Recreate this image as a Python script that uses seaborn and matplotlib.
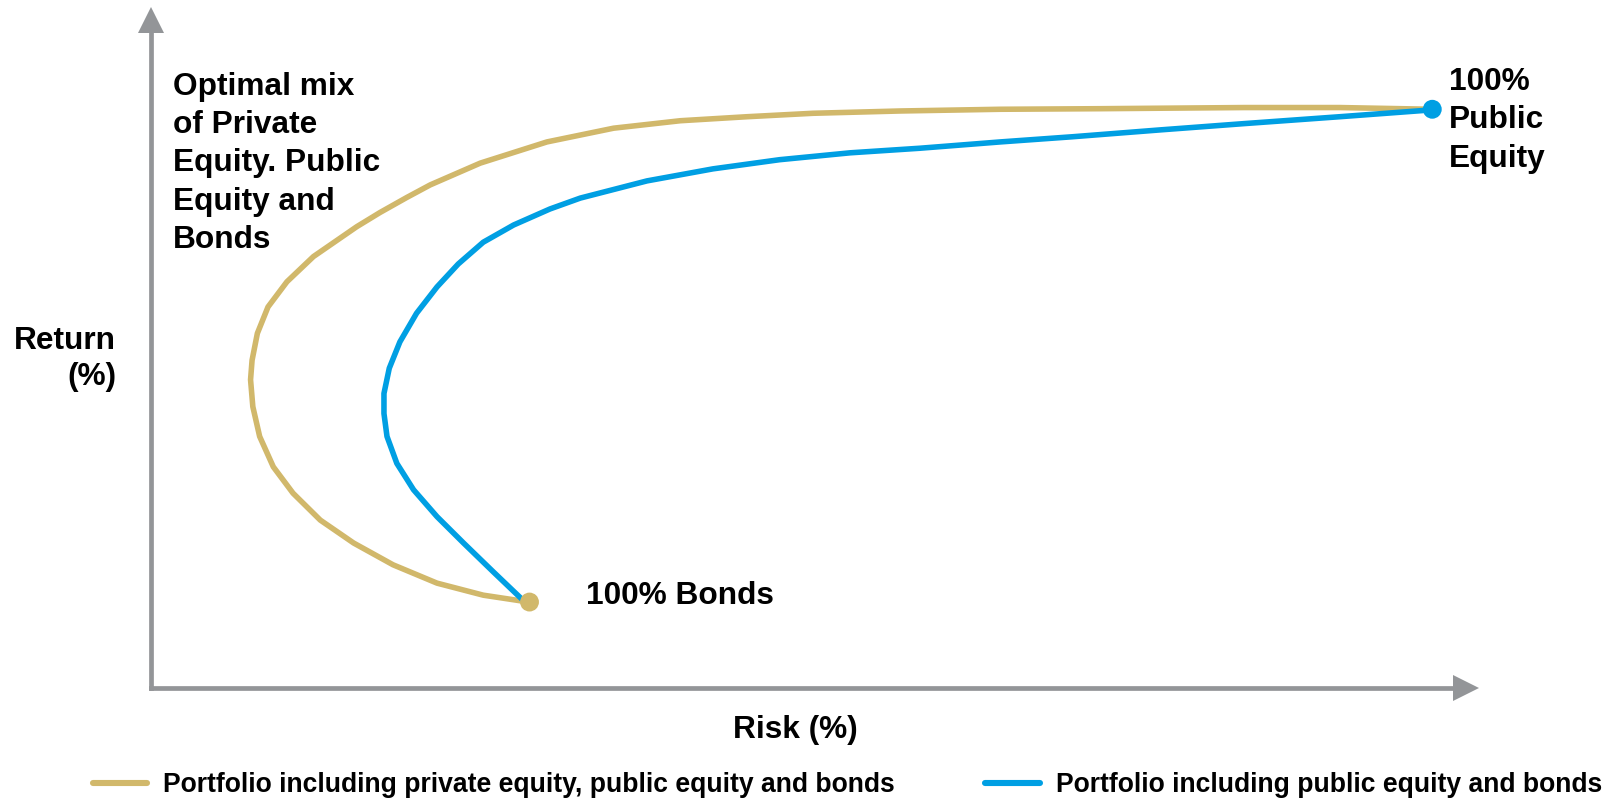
import pandas as pd
import seaborn as sns
import matplotlib.pyplot as plt
from matplotlib.lines import Line2D

# Efficient-frontier style curves: risk (%) on x, return (%) on y,
# each running from 100% bonds to 100% public equity
risk_with_pe = [4.99, 4.39, 3.78, 3.20, 2.68, 2.24, 1.88, 1.62, 1.44, 1.35,
                1.32, 1.34, 1.41, 1.55, 1.80, 2.15, 2.72, 3.03, 3.38, 3.69,
                4.35, 5.23, 6.11, 6.99, 7.87, 8.74, 9.89, 11.21, 12.53, 14.43,
                15.69, 16.91]
return_with_pe = [1.50, 1.62, 1.83, 2.15, 2.53, 2.93, 3.40, 3.86, 4.39, 4.91,
                  5.38, 5.72, 6.19, 6.65, 7.09, 7.53, 8.05, 8.30, 8.56, 8.78,
                  9.16, 9.53, 9.77, 9.90, 9.97, 10.03, 10.07, 10.10, 10.11, 10.13,
                  10.13, 10.10]

risk_public = [4.90, 4.52, 4.13, 3.78, 3.47, 3.25, 3.12, 3.08, 3.08, 3.15,
               3.29, 3.51, 3.78, 4.06, 4.39, 4.79, 5.27, 5.67, 6.55, 7.42,
               8.30, 9.23, 10.15, 11.21, 12.16, 13.32, 14.43, 15.69, 16.91]
return_public = [1.55, 2.03, 2.53, 2.99, 3.46, 3.92, 4.39, 4.79, 5.14, 5.58,
                 6.04, 6.54, 7.00, 7.40, 7.78, 8.08, 8.36, 8.55, 8.85, 9.06,
                 9.22, 9.34, 9.42, 9.53, 9.62, 9.74, 9.85, 9.97, 10.09]

bonds_point = (5.00, 1.50)
equity_point = (16.91, 10.10)

series_labels = ["Portfolio including private equity, public equity and bonds",
                 "Portfolio including public equity and bonds"]
series_colors = ["#D1B86B", "#009FE3"]
axis_color = "#939598"

frames = []
for label, xs, ys in [(series_labels[0], risk_with_pe, return_with_pe),
                      (series_labels[1], risk_public, return_public)]:
    frames.append(pd.DataFrame({"risk": xs, "ret": ys, "portfolio": label}))
df = pd.concat(frames, ignore_index=True)

sns.set_theme(style="white")
plt.rcParams["font.family"] = ["Liberation Sans", "DejaVu Sans"]
plt.rcParams["font.weight"] = "bold"

W, H = 1619, 798
fig = plt.figure(figsize=(W / 100, H / 100), dpi=100)


def fx(px):
    return px / W


def fy(py):
    return 1 - py / H


left, right, bottom, top = 150.5, 1465.5, 688, 20
ax = fig.add_axes([fx(left), fy(bottom), fx(right) - fx(left), fy(top) - fy(bottom)])
px_per_risk, px_per_ret = 75.8, 57.3
ax.set_xlim(0, (right - left) / px_per_risk)
ax.set_ylim(0, (bottom - top) / px_per_ret)

sns.lineplot(data=df, x="risk", y="ret", hue="portfolio", estimator=None, sort=False,
             palette=dict(zip(series_labels, series_colors)), linewidth=4.0,
             legend=False, ax=ax, solid_capstyle="round", solid_joinstyle="round")

sns.scatterplot(x=[equity_point[0]], y=[equity_point[1]], color=series_colors[1],
                s=185, edgecolor="none", ax=ax, zorder=5, clip_on=False)
sns.scatterplot(x=[bonds_point[0]], y=[bonds_point[1]], color=series_colors[0],
                s=185, edgecolor="none", ax=ax, zorder=5, clip_on=False)

# Axes drawn as arrows
for side in ["top", "right"]:
    ax.spines[side].set_visible(False)
for side in ["left", "bottom"]:
    ax.spines[side].set_color(axis_color)
    ax.spines[side].set_linewidth(3.4)
ax.set_xticks([])
ax.set_yticks([])
ax.set_xlabel("")
ax.set_ylabel("")
ax.plot([0], [1], marker="^", markersize=19, color=axis_color, transform=ax.transAxes,
        clip_on=False, markeredgewidth=0)
ax.plot([1], [0], marker=">", markersize=19, color=axis_color, transform=ax.transAxes,
        clip_on=False, markeredgewidth=0)

fs = 22.75


def block(x, y0, lines, pitch, ha="left"):
    for i, line in enumerate(lines):
        fig.text(fx(x), fy(y0 + i * pitch), line, fontsize=fs, fontweight="bold",
                 ha=ha, va="baseline", color="black")


block(173, 95, ["Optimal mix", "of Private", "Equity. Public", "Equity and", "Bonds"], 38.2)
block(1449, 90, ["100%", "Public", "Equity"], 38.5)
block(586, 604, ["100% Bonds"], 0)
block(116, 349, ["Return", "(%)"], 36, ha="right")
block(795, 738, ["Risk (%)"], 0, ha="center")

handles = [Line2D([], [], color=c, linewidth=4.4) for c in series_colors]
fig.legend(handles, series_labels, loc="center left", bbox_to_anchor=(fx(93), fy(785)),
           ncol=2, frameon=False, handlelength=2.05, handletextpad=0.6,
           columnspacing=3.4, borderpad=0, borderaxespad=0, labelcolor="black",
           prop={"weight": "bold", "size": 19.1})

fig.savefig("out.png", dpi=100)
